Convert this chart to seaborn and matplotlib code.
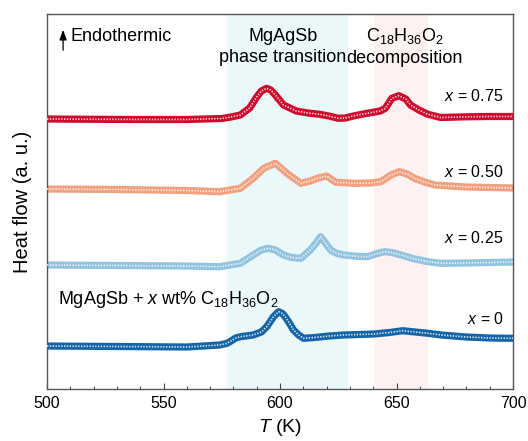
import matplotlib
matplotlib.use("Agg")
import matplotlib.pyplot as plt
from matplotlib.ticker import MultipleLocator
import seaborn as sns
import pandas as pd

# ---- data (heat flow in arbitrary units) ----
T_075 = [500, 520, 540, 560, 575, 579, 583, 587, 590, 592, 594.3, 596, 598, 601.5, 607, 612, 617,
         621, 625, 628, 632, 637, 643, 645.2, 648, 651, 654, 656, 660, 663.5, 669, 680, 690, 700]
hf_075 = [270, 269.7, 269.5, 269.5, 270.5, 272, 274, 281, 292, 298, 300.7, 299, 294, 284, 278, 276, 274.7,
          273, 270.7, 271, 273.3, 275.5, 278, 280.7, 290.7, 293.3, 290, 284, 278.5, 274.7, 271.5, 272.2, 272.5, 272.5]

T_050 = [500, 530, 560, 574, 583, 588.5, 593, 598, 603, 609, 613, 616, 620, 624, 632, 639, 643.3,
         647.6, 651.2, 654.5, 657.7, 662, 666.4, 680, 690, 700]
hf_050 = [200, 199.5, 198.5, 197.3, 200.7, 210.7, 220.7, 225.7, 215.7, 205.7, 208, 210.7, 213, 206.7,
          205.7, 206, 207.3, 214, 217.3, 215, 210.7, 207, 204, 202, 201.5, 201]

T_025 = [500, 530, 560, 574, 583, 588.5, 592, 595, 598, 601.5, 605, 609, 613, 615.5, 617.4, 619.5,
         621.7, 624.5, 627.5, 633, 637.6, 641, 644.8, 648, 652, 657, 663.5, 669, 680, 690, 700]
hf_025 = [124, 123.5, 123, 122.3, 125.7, 134, 139, 140.7, 139, 134, 131.5, 130.7, 139, 146, 152.3, 146,
          139, 135.5, 134, 132.7, 132.3, 135, 137.3, 136.5, 134, 130.5, 127.3, 125.7, 126, 126.5, 127]

T_000 = [500, 530, 560, 574, 577, 578.5, 581, 583, 588.5, 592, 594.3, 596, 597.2, 599.4, 601, 602.2,
         604, 605.8, 608, 610.1, 615.9, 621, 627.5, 634, 640.4, 647, 652.7, 658, 663.5, 669.2, 680, 690, 700]
hf_000 = [43, 42.5, 42, 44, 45.5, 47.3, 51, 52.3, 54, 57, 62.3, 68, 72.3, 77.3, 75.5, 72.3,
          66, 59, 54, 50.7, 51.7, 53, 54, 54.5, 55, 56.5, 58.3, 57, 55.7, 54, 52, 51, 50.7]

series_labels = ["$x$ = 0.75", "$x$ = 0.50", "$x$ = 0.25", "$x$ = 0"]
label_y = [293, 217, 151, 70]
colors = ["#CF0A2C", "#F2A180", "#92C3DF", "#1565A8"]

xticks = [500, 550, 600, 650, 700]
phase_span = (577.3, 629.0)
decomp_span = (640.3, 663.5)

# ---- style ----
sns.set_theme(style="ticks")
plt.rcParams["font.family"] = ["Liberation Sans", "DejaVu Sans"]
plt.rcParams["mathtext.fontset"] = "custom"
plt.rcParams["mathtext.rm"] = "Liberation Sans"
plt.rcParams["mathtext.it"] = "Liberation Sans:italic"
plt.rcParams["mathtext.bf"] = "Liberation Sans:bold"
plt.rcParams["text.color"] = "black"
plt.rcParams["axes.labelcolor"] = "black"

fig = plt.figure(figsize=(5.28, 4.41), dpi=100)
ax = fig.add_axes([47 / 528, 1 - 389 / 441, 466 / 528, 375 / 441])

ax.axvspan(*phase_span, color="#EBF8FA", lw=0, zorder=0)
ax.axvspan(*decomp_span, color="#FDF1F1", lw=0, zorder=0)

all_T = [T_075, T_050, T_025, T_000]
all_hf = [hf_075, hf_050, hf_025, hf_000]
for T, hf, c in zip(all_T, all_hf, colors):
    df = pd.DataFrame({"T": T, "hf": hf})
    sns.lineplot(data=df, x="T", y="hf", color=c, lw=5.2, ax=ax, sort=False,
                 solid_joinstyle="round", zorder=2)
    sns.lineplot(data=df, x="T", y="hf", color="white", lw=1.2, ax=ax, sort=False,
                 linestyle=(0, (0.8, 0.9)), alpha=0.85, zorder=3)

for lab, y in zip(series_labels, label_y):
    ax.text(696, y, lab, ha="right", va="center", fontsize=11.5, color="black")

ax.text(504.7, 90, "MgAgSb + $x$ wt% C$_{18}$H$_{36}$O$_2$", ha="left", va="center",
        fontsize=13, color="black")
ax.text(601.3, 353, "MgAgSb", ha="center", va="center", fontsize=13)
ax.text(601.3, 332, "phase transition", ha="center", va="center", fontsize=13)
ax.text(653.5, 353, "C$_{18}$H$_{36}$O$_2$", ha="center", va="center", fontsize=13)
ax.text(653.5, 331, "decomposition", ha="center", va="center", fontsize=13)
ax.text(509.9, 353, "Endothermic", ha="left", va="center", fontsize=13)
ax.annotate("", xy=(506.9, 362), xytext=(506.9, 336),
            arrowprops=dict(arrowstyle="-|>,head_length=0.5,head_width=0.18", color="black", lw=0.9))

ax.set_xlim(500, 700)
ax.set_ylim(0, 375)
ax.set_xticks(xticks)
ax.xaxis.set_minor_locator(MultipleLocator(10))
ax.set_yticks([])
ax.tick_params(axis="x", which="major", direction="in", length=4, width=0.8,
               labelsize=11.5, pad=5, colors="#444444", labelcolor="black")
ax.tick_params(axis="x", which="minor", direction="in", length=2, width=0.7, colors="#444444")
for s in ax.spines.values():
    s.set_color("#555555")
    s.set_linewidth(1.0)

ax.set_xlabel("$T$ (K)", fontsize=14, labelpad=4)
ax.set_ylabel("Heat flow (a. u.)", fontsize=14.5, labelpad=11)

fig.savefig("out.png", dpi=100)
